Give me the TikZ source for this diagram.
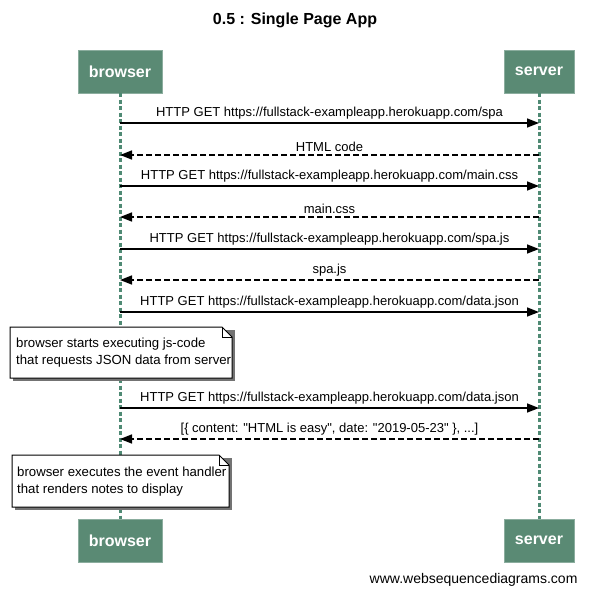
\documentclass[tikz,border=0pt]{standalone}
\usepackage{fontspec}
\setmainfont{Liberation Sans}
\usepackage{tikz}
\usetikzlibrary{positioning,calc,arrows.meta}

\definecolor{actorgreen}{HTML}{5A8A74}
\definecolor{lifegreen}{HTML}{4F8A74}

\tikzset{
  actor/.style={fill=actorgreen, draw=actorgreen!70!white, minimum height=43pt,
    text=white, font=\fontsize{16}{18}\selectfont\bfseries, inner sep=0pt},
  lifeline/.style={draw=lifegreen, line width=3pt, dash pattern=on 4pt off 2.5pt},
  msg/.style={-{Triangle[length=12pt,width=9pt]}, line width=1.6pt},
  reply/.style={msg, dash pattern=on 6pt off 3pt},
  msglabel/.style={font=\fontsize{13}{15}\selectfont, inner sep=0pt},
  notetext/.style={font=\fontsize{13.2}{17}\selectfont, align=left, anchor=north west, inner sep=0pt}
}

% folded note drawn around two corner coordinates
\newcommand{\notebox}[2]{%
  \fill[black!55] ($(#1)+(3,3)$) rectangle ($(#2)+(3,3)$);
  \draw[fill=white, line width=1pt] (#1) -- ($(#1 -| #2)+(-10,0)$) -- ($(#1 -| #2)+(0,10)$)
    -- (#2) -- (#1 |- #2) -- cycle;
  \draw[line width=1pt] ($(#1 -| #2)+(-10,0)$) -- ($(#1 -| #2)+(-10,10)$) -- ($(#1 -| #2)+(0,10)$);
}
\newcommand{\dq}{\textquotedbl}

\begin{document}
\begin{tikzpicture}[x=1pt, y=-1pt, >=latex]
    \useasboundingbox (0,0) rectangle (590,597);
    % Title
    \node[font=\fontsize{16}{18}\selectfont\bfseries] (title) at (295,20) {0.5 : Single Page App};

    % Participants
    \node[actor, minimum width=84pt] (btop) at (120,71.5) {browser};
    \node[actor, minimum width=70pt] (stop) at (539,71.5) {server};
    \node[actor, minimum width=84pt] (bbot) at (120,540.5) {browser};
    \node[actor, minimum width=70pt] (sbot) at (539,540.5) {server};

    % Lifelines
    \draw[lifeline] (btop.south) -- (bbot.north);
    \draw[lifeline] (stop.south) -- (sbot.north);

    % Message end points on the lifelines
    \foreach \n/\y in {1/123,2/155,3/186,4/217,5/249,6/280,7/312,8/408,9/439} {
      \coordinate (b\n) at (btop.south |- 0,\y);
      \coordinate (s\n) at (stop.south |- 0,\y);
    }

    % Messages
    \draw[msg] (b1) -- (s1) node[msglabel, midway, above=3pt] {HTTP GET https://fullstack-exampleapp.herokuapp.com/spa};
    \draw[reply] (s2) -- (b2) node[msglabel, midway, above=3pt] {HTML code};
    \draw[msg] (b3) -- (s3) node[msglabel, midway, above=3pt] {HTTP GET https://fullstack-exampleapp.herokuapp.com/main.css};
    \draw[reply] (s4) -- (b4) node[msglabel, midway, above=3pt] {main.css};
    \draw[msg] (b5) -- (s5) node[msglabel, midway, above=3pt] {HTTP GET https://fullstack-exampleapp.herokuapp.com/spa.js};
    \draw[reply] (s6) -- (b6) node[msglabel, midway, above=3pt] {spa.js};
    \draw[msg] (b7) -- (s7) node[msglabel, midway, above=3pt] {HTTP GET https://fullstack-exampleapp.herokuapp.com/data.json};

    % Note 1
    \coordinate (n1a) at (10,327);
    \coordinate (n1b) at (232,378);
    \notebox{n1a}{n1b}
    \node[notetext] (note1) at (16,338) {browser starts executing js-code\\that requests JSON data from server};

    \draw[msg] (b8) -- (s8) node[msglabel, midway, above=3pt] {HTTP GET https://fullstack-exampleapp.herokuapp.com/data.json};
    \draw[reply] (s9) -- (b9) node[msglabel, midway, above=3pt] {[\{ content: \dq HTML is easy\dq, date: \dq 2019-05-23\dq\ \}, ...]};

    % Note 2
    \coordinate (n2a) at (12,455);
    \coordinate (n2b) at (229,507);
    \notebox{n2a}{n2b}
    \node[notetext] (note2) at (17,467) {browser executes the event handler\\that renders notes to display};

    % Footer
    \node[font=\fontsize{14}{16}\selectfont, anchor=east] (credit) at (581,580) {www.websequencediagrams.com};
\end{tikzpicture}
\end{document}
